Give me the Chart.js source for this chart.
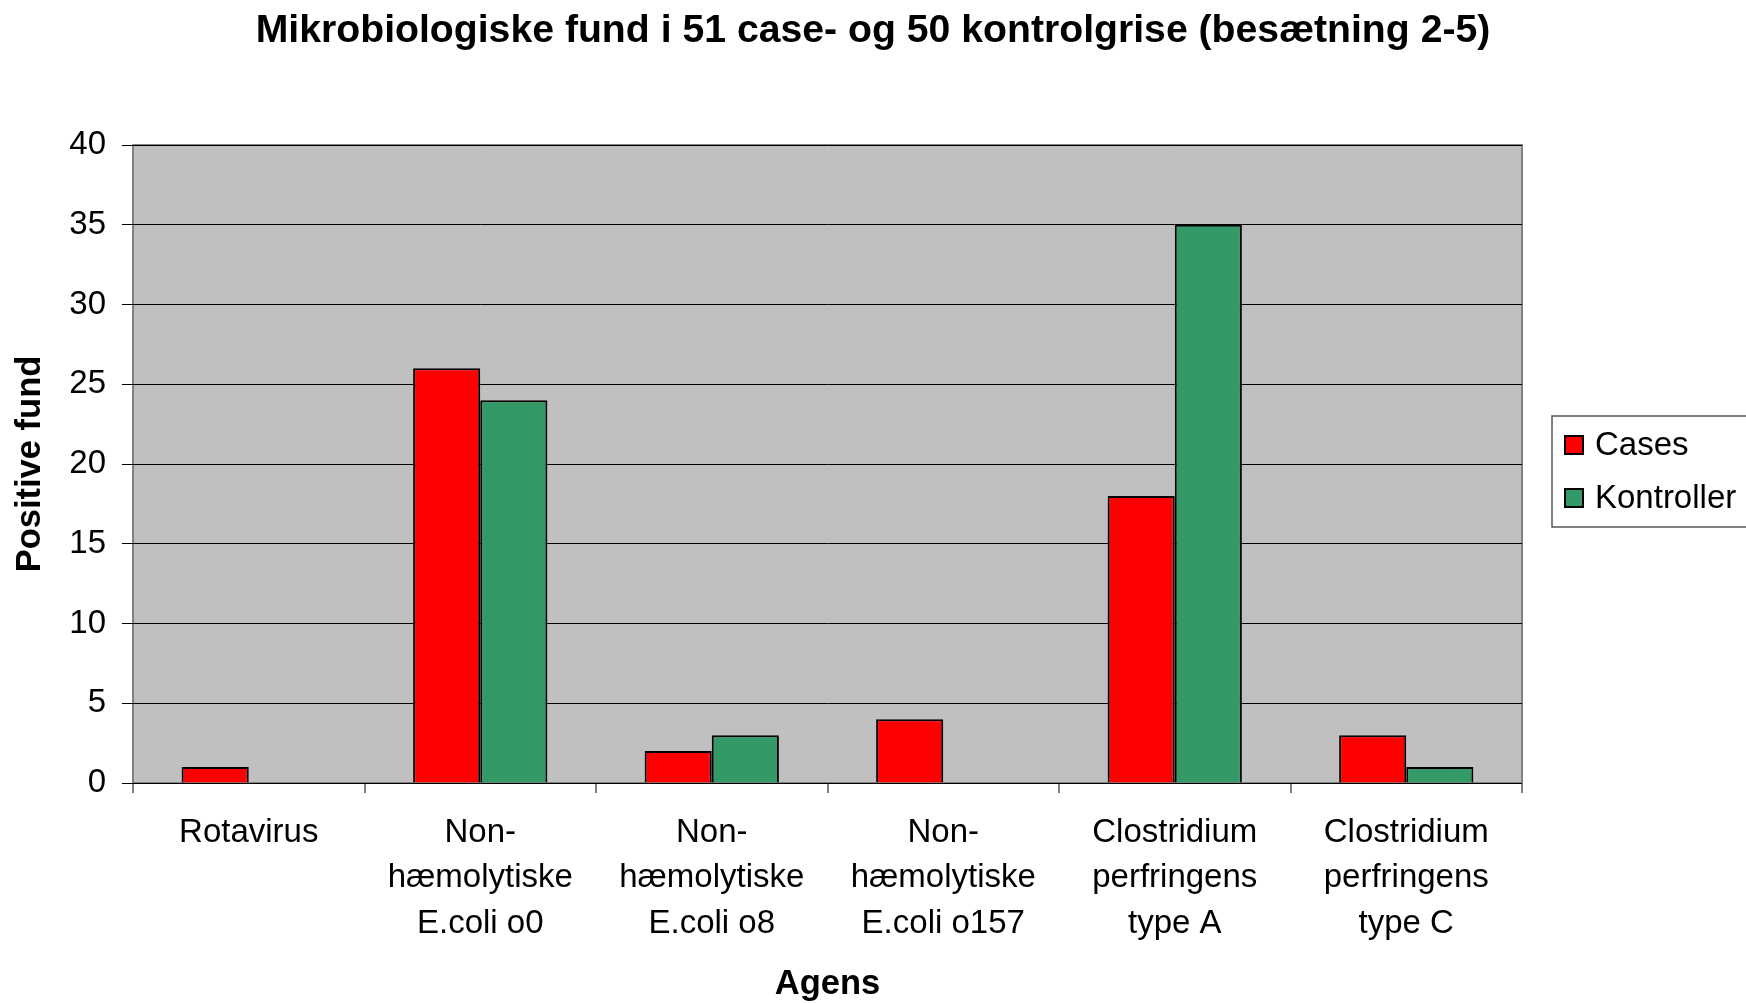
<!DOCTYPE html>
<html>
<head>
<meta charset="utf-8">
<script src="https://cdn.jsdelivr.net/npm/chart.js@4"></script>
<style>
  html, body { margin: 0; padding: 0; background: #fff; }
  #wrap { width: 1746px; height: 1003px; }
</style>
</head>
<body>
<div id="wrap"><canvas id="myChart" width="1746" height="1003"></canvas></div>
<script>
const categories = [
  "Rotavirus",
  ["Non-", "hæmolytiske", "E.coli o0"],
  ["Non-", "hæmolytiske", "E.coli o8"],
  ["Non-", "hæmolytiske", "E.coli o157"],
  ["Clostridium", "perfringens", "type A"],
  ["Clostridium", "perfringens", "type C"],
];
const casesValues = [1, 26, 2, 4, 18, 3];
const kontrolValues = [0, 24, 3, 0, 35, 1];
const yTicks = [0, 5, 10, 15, 20, 25, 30, 35, 40];

const FONT = "'Liberation Sans', Arial, sans-serif";

// grey plot area with border
const plotBackground = {
  id: "plotBackground",
  beforeDraw(chart) {
    const { ctx, chartArea: a } = chart;
    ctx.save();
    ctx.fillStyle = "#c0c0c0";
    ctx.fillRect(a.left, a.top, a.right - a.left, a.bottom - a.top);
    ctx.strokeStyle = "#808080";
    ctx.lineWidth = 2;
    ctx.strokeRect(a.left, a.top, a.right - a.left, a.bottom - a.top);
    ctx.restore();
  },
};

// legend box on the right, like the old excel one
const boxLegend = {
  id: "boxLegend",
  afterDraw(chart) {
    const ctx = chart.ctx;
    const x = 1552, y = 416, w = 210, h = 111;
    ctx.save();
    ctx.fillStyle = "#fff";
    ctx.fillRect(x, y, w, h);
    ctx.strokeStyle = "#555";
    ctx.lineWidth = 1.5;
    ctx.strokeRect(x, y, w, h);
    ctx.font = "33px " + FONT;
    ctx.textBaseline = "middle";
    chart.data.datasets.forEach((ds, i) => {
      const cy = 445 + i * 53;
      ctx.fillStyle = ds.backgroundColor;
      ctx.fillRect(1565, cy - 9, 18, 18);
      ctx.strokeStyle = "#000";
      ctx.lineWidth = 2;
      ctx.strokeRect(1565, cy - 9, 18, 18);
      ctx.fillStyle = "#000";
      ctx.fillText(ds.label, 1595, cy + 1);
    });
    ctx.restore();
  },
};

const ctx = document.getElementById("myChart").getContext("2d");
const noZero = (c) => (c.raw === 0 ? 0 : 2);

new Chart(ctx, {
  type: "bar",
  data: {
    labels: categories,
    datasets: [
      {
        label: "Cases",
        data: casesValues,
        backgroundColor: "#ff0000",
        borderColor: "#000",
        borderWidth: noZero,
      },
      {
        label: "Kontroller",
        data: kontrolValues,
        backgroundColor: "#339966",
        borderColor: "#000",
        borderWidth: noZero,
      },
    ],
  },
  options: {
    responsive: false,
    animation: false,
    layout: { padding: 0 },
    categoryPercentage: 0.58,
    barPercentage: 1,
    plugins: {
      legend: { display: false },
      tooltip: { enabled: false },
      title: {
        display: true,
        text: "Mikrobiologiske fund i 51 case- og 50 kontrolgrise (besætning 2-5)",
        color: "#000",
        font: { family: FONT, size: 39.2, weight: "bold", lineHeight: 1.2 },
        padding: { top: 8, bottom: 90 },
      },
    },
    scales: {
      x: {
        afterFit(scale) { scale.height = 220; },
        grid: {
          offset: true,
          drawOnChartArea: false,
          color: "#808080",
          lineWidth: 2,
          tickLength: 10,
        },
        border: { display: false },
        ticks: {
          color: "#000",
          padding: 17,
          autoSkip: false,
          maxRotation: 0,
          font: { family: FONT, size: 33, lineHeight: 1.38 },
        },
        title: {
          display: true,
          text: "Agens",
          color: "#000",
          font: { family: FONT, size: 34.5, weight: "bold", lineHeight: 1.1 },
          padding: { top: 0, bottom: 0 },
        },
      },
      y: {
        min: 0,
        max: 40,
        afterFit(scale) { scale.width = 133; },
        afterBuildTicks(scale) { scale.ticks = yTicks.map((v) => ({ value: v })); },
        grid: {
          color: "#000",
          lineWidth: 1,
          tickLength: 11,
          tickColor: "#000",
        },
        border: { display: false },
        ticks: {
          color: "#000",
          padding: 16,
          font: { family: FONT, size: 33 },
        },
        title: {
          display: true,
          text: "Positive fund",
          color: "#000",
          font: { family: FONT, size: 34.5, weight: "bold", lineHeight: 1.2 },
          padding: { top: 10, bottom: 0 },
        },
      },
      // empty axis that only reserves the space where the legend sits
      legendSpace: {
        type: "linear",
        position: "right",
        afterFit(scale) { scale.width = 224; },
        grid: { drawOnChartArea: false, drawTicks: false },
        border: { display: false },
        ticks: { display: false },
      },
    },
  },
  plugins: [plotBackground, boxLegend],
});
</script>
</body>
</html>
